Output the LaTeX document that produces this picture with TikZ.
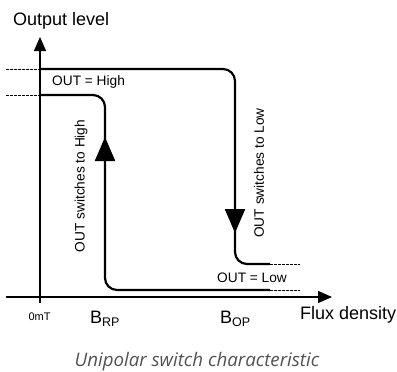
\documentclass[tikz,border=0pt]{standalone}
\usepackage{fontspec}
\setmainfont{Liberation Sans}
\newfontfamily\captionfont{Open Sans}
\usetikzlibrary{positioning, arrows.meta, calc}

\newcommand{\lowsub}[1]{\raisebox{-3.5pt}{\fontsize{12.5}{14}\selectfont #1}}

\tikzset{
    axis/.style={line width=1.3pt, -{Triangle[length=14pt,width=12pt]}},
    curve/.style={line width=2.2pt, rounded corners=12pt},
    levelline/.style={line width=1pt, dash pattern=on 2.5pt off 1.5pt},
    flow/.style={line width=2.2pt, -{Triangle[length=24pt,width=20pt]}},
    lbl/.style={font=\fontsize{13.7}{15}\selectfont, inner sep=0pt},
    biglbl/.style={font=\fontsize{18}{20}\selectfont, inner sep=0pt}
}

\begin{document}
\begin{tikzpicture}[x=1pt, y=-1pt]
    \useasboundingbox (0,0) rectangle (397,372);
    % Axes
    \coordinate (origin) at (40,297);
    \coordinate (xend) at (332,297);
    \coordinate (yend) at (40,37);
    \draw [axis] (6,297) -- (xend);
    \draw [axis] (40,303) -- (yend);
    \node [biglbl, anchor=west] (ylabel) at (13,21) {Output level};
    \node [biglbl, anchor=west] (xlabel) at (300,315) {Flux density};
    \node [font=\fontsize{11}{12}\selectfont, inner sep=0pt] (zero) at (39.5,317) {0mT};
    \node [biglbl, anchor=west] (brp) at (90,319) {B\lowsub{RP}};
    \node [biglbl, anchor=west] (bop) at (220,319) {B\lowsub{OP}};
    % Level markers
    \draw [levelline] (6,69) -- (40,69);
    \draw [levelline] (6,95) -- (40,95);
    \draw [levelline] (270,264) -- (300,264);
    \draw [levelline] (270,290) -- (300,290);
    % High to low branch
    \draw [curve] (40,69) -- (235,69) -- (235,264) -- (270,264);
    \draw [flow] (235,200) -- (235,233);
    % Low to high branch
    \draw [curve] (270,290) -- (105,290) -- (105,95) -- (40,95);
    \draw [flow] (105,170) -- (105,137);
    % Labels
    \node [lbl, anchor=west] (high) at (52,82) {OUT = High};
    \node [lbl, anchor=west] (low) at (217,278) {OUT = Low};
    \node [lbl, rotate=90] (tohigh) at (81,186) {OUT switches to High};
    \node [lbl, rotate=90] (tolow) at (259,173) {OUT switches to Low};
    % Caption
    \node [font=\captionfont\itshape\fontsize{18.7}{22}\selectfont, text=black!68, inner sep=0pt] (caption) at (197,362) {Unipolar switch characteristic};
\end{tikzpicture}
\end{document}
